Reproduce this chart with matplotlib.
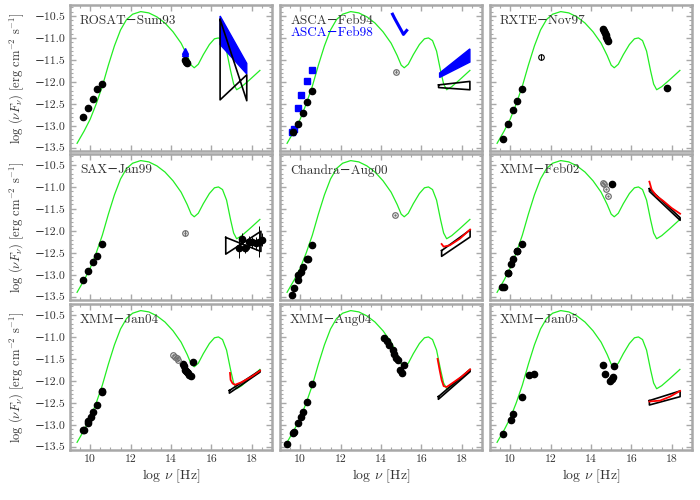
import matplotlib

matplotlib.use("Agg")
import matplotlib.pyplot as plt
from matplotlib.ticker import MultipleLocator

# model SED (green curve)
MODEL_NU = [9.35, 9.7, 10.0, 10.3, 10.6, 10.9, 11.2, 11.5, 11.8, 12.1, 12.5, 12.9,
            13.3, 13.7, 14.1, 14.5, 14.8, 15.0, 15.15, 15.35, 15.6, 15.9, 16.15,
            16.35, 16.55, 16.75, 16.95, 17.1, 17.25, 17.5, 17.9, 18.4]
MODEL_F = [-13.40, -13.12, -12.85, -12.50, -12.10, -11.62, -11.18, -10.82, -10.58,
           -10.46, -10.40, -10.43, -10.52, -10.66, -10.86, -11.12, -11.40, -11.62,
           -11.68, -11.60, -11.38, -11.15, -11.02, -11.00, -11.06, -11.30, -11.75,
           -12.05, -12.18, -12.11, -11.95, -11.74]

TITLES = ["ROSAT−Sum93", "ASCA−Feb94", "RXTE−Nov97",
          "SAX−Jan99", "Chandra−Aug00", "XMM−Feb02",
          "XMM−Jan04", "XMM−Aug04", "XMM−Jan05"]

# ROSAT-Sum93
ROSAT_NU = [9.66, 9.91, 10.15, 10.35, 10.57, 14.67, 14.72, 14.78]
ROSAT_F = [-12.81, -12.60, -12.39, -12.17, -12.06, -11.50, -11.55, -11.57]
ROSAT_UV_NU = [14.69, 14.69]
ROSAT_UV_F = [-11.29, -11.35]
ROSAT_BLUE_TIE_NU = [16.43, 17.75, 17.75, 16.43]
ROSAT_BLUE_TIE_F = [-10.50, -11.58, -11.82, -11.15]
ROSAT_TIE_NU = [16.43, 17.75, 17.75, 16.43, 16.43]
ROSAT_TIE_F = [-10.58, -12.43, -11.84, -12.41, -10.58]

# ASCA-Feb94 (black) / ASCA-Feb98 (blue)
ASCA_NU = [9.66, 9.91, 10.15, 10.35, 10.57]
ASCA_F = [-13.14, -12.97, -12.72, -12.46, -12.20]
ASCA98_NU = [9.57, 9.69, 9.91, 10.05, 10.35, 10.57]
ASCA98_F = [-13.15, -13.08, -12.59, -12.30, -11.99, -11.74]
ASCA_OPEN_NU = [14.72]
ASCA_OPEN_F = [-11.77]
ASCA98_UV_NU = [14.57, 14.68, 14.80, 14.92, 15.03, 15.11, 15.27]
ASCA98_UV_F = [-10.46, -10.56, -10.66, -10.76, -10.85, -10.92, -10.83]
ASCA98_TIE_NU = [16.9, 18.4, 18.4, 16.9]
ASCA98_TIE_F = [-11.80, -11.25, -11.55, -11.90]
ASCA_TIE_NU = [16.85, 18.4, 18.4, 16.85, 16.85]
ASCA_TIE_F = [-12.07, -11.99, -12.18, -12.13, -12.07]

# RXTE-Nov97
RXTE_NU = [9.66, 9.91, 10.15, 10.35, 10.57, 14.60, 14.64, 14.68, 14.72, 14.76,
           14.80, 14.84, 17.75]
RXTE_F = [-13.31, -12.95, -12.65, -12.43, -12.17, -10.80, -10.84, -10.88, -10.93,
          -10.97, -11.02, -11.07, -12.15]
RXTE_PHI_NU = [11.52]
RXTE_PHI_F = [-11.44]

# SAX-Jan99
SAX_NU = [9.66, 9.91, 10.15, 10.35, 10.57]
SAX_F = [-13.12, -12.91, -12.70, -12.57, -12.31]
SAX_PHI_NU = [14.69]
SAX_PHI_F = [-12.05]
SAX_X_NU = [17.37, 17.51, 17.68, 17.86, 18.02, 18.19, 18.36, 18.52]
SAX_X_F = [-12.38, -12.18, -12.40, -12.26, -12.26, -12.28, -12.25, -12.20]
SAX_X_ERR = [0.24, 0.12, 0.10, 0.15, 0.12, 0.15, 0.35, 0.15]
SAX_TIE_NU = [16.71, 18.45, 18.45, 16.71, 16.71]
SAX_TIE_F = [-12.15, -12.47, -12.01, -12.53, -12.15]

# Chandra-Aug00
CHANDRA_NU = [9.57, 9.69, 9.87, 9.91, 10.02, 10.15, 10.32, 10.37, 10.57]
CHANDRA_F = [-13.47, -13.31, -13.11, -13.01, -12.93, -12.82, -12.64, -12.63, -12.33]
CHANDRA_OPEN_NU = [14.69]
CHANDRA_OPEN_F = [-11.65]
CHANDRA_RED_NU = [17.0, 17.1, 17.4, 17.9, 18.41]
CHANDRA_RED_F = [-12.30, -12.36, -12.33, -12.18, -11.97]
CHANDRA_TIE_NU = [17.0, 18.41, 18.41, 17.0, 17.0]
CHANDRA_TIE_F = [-12.45, -11.98, -12.14, -12.58, -12.45]

# XMM-Feb02
FEB02_NU = [9.58, 9.69, 9.88, 9.91, 10.04, 10.15, 10.32, 10.35, 10.57, 15.06]
FEB02_F = [-13.27, -13.27, -12.97, -12.95, -12.76, -12.65, -12.47, -12.46, -12.30,
           -10.94]
FEB02_OPEN_NU = [14.58, 14.66, 14.74, 14.86]
FEB02_OPEN_F = [-10.91, -10.94, -11.05, -11.20]
FEB02_RED_NU = [16.89, 17.0, 17.25, 17.58, 17.99, 18.41]
FEB02_RED_F = [-10.88, -11.06, -11.21, -11.32, -11.48, -11.61]
FEB02_TIE_NU = [16.89, 18.41, 18.41, 16.89, 16.89]
FEB02_TIE_F = [-11.04, -11.70, -11.76, -11.10, -11.04]

# XMM-Jan04
JAN04_NU = [9.66, 9.71, 9.91, 9.91, 10.02, 10.15, 10.35, 10.57, 10.57, 14.58, 14.64,
            14.69, 14.74, 14.78, 14.83, 14.90, 14.97, 15.10]
JAN04_F = [-13.11, -13.11, -12.97, -12.91, -12.83, -12.72, -12.54, -12.26, -12.23,
           -11.62, -11.67, -11.75, -11.78, -11.80, -11.82, -11.86, -11.88, -11.58]
JAN04_OPEN_NU = [14.12, 14.20, 14.28, 14.36]
JAN04_OPEN_F = [-11.42, -11.46, -11.49, -11.52]
JAN04_RED_NU = [16.92, 16.95, 17.05, 17.17, 17.5, 18.0, 18.41]
JAN04_RED_F = [-11.82, -11.98, -12.06, -12.09, -12.03, -11.90, -11.77]
JAN04_TIE_NU = [16.89, 18.41, 18.41, 16.89, 16.89]
JAN04_TIE_F = [-12.22, -11.76, -11.80, -12.28, -12.22]

# XMM-Aug04
AUG04_NU = [9.36, 9.66, 9.71, 9.87, 10.02, 10.15, 10.35, 10.57, 14.15, 14.28, 14.41,
            14.58, 14.64, 14.74, 14.86, 14.94, 15.03, 15.15]
AUG04_F = [-13.43, -13.18, -13.16, -12.97, -12.82, -12.70, -12.49, -12.07, -11.02,
           -11.10, -11.19, -11.29, -11.38, -11.49, -11.52, -11.76, -11.82, -11.63]
AUG04_RED_NU = [16.80, 16.90, 17.00, 17.10, 17.25, 17.6, 18.0, 18.41]
AUG04_RED_F = [-11.50, -11.75, -11.98, -12.12, -12.14, -12.03, -11.90, -11.74]
AUG04_TIE_NU = [16.84, 18.41, 18.41, 16.84, 16.84]
AUG04_TIE_F = [-12.36, -11.74, -11.79, -12.42, -12.36]

# XMM-Jan05
JAN05_NU = [9.66, 10.02, 10.15, 10.57, 10.95, 11.18, 14.61, 14.69, 14.94, 15.02,
            15.07, 15.14]
JAN05_F = [-13.20, -12.89, -12.76, -12.36, -11.86, -11.84, -11.65, -11.84, -12.01,
           -11.96, -11.92, -11.67]
JAN05_RED_NU = [16.89, 17.42, 17.91, 18.41]
JAN05_RED_F = [-12.47, -12.45, -12.36, -12.23]
JAN05_TIE_NU = [16.89, 18.41, 18.41, 16.89, 16.89]
JAN05_TIE_F = [-12.45, -12.23, -12.36, -12.55, -12.45]

FRAME = "#a8a8a8"
GREEN = "#22ee22"
GRAY = "#707070"
INK = "#333333"

plt.rcParams["font.family"] = ["cmr10", "DejaVu Serif"]
plt.rcParams["mathtext.fontset"] = "cm"
plt.rcParams["axes.unicode_minus"] = True


def style_axes(ax, row, col):
    ax.set_xlim(9.0, 19.0)
    ax.set_ylim(-13.575, -10.25)
    ax.xaxis.set_major_locator(MultipleLocator(2))
    ax.xaxis.set_minor_locator(MultipleLocator(0.5))
    ax.yaxis.set_major_locator(MultipleLocator(0.5))
    ax.yaxis.set_minor_locator(MultipleLocator(0.1))
    ax.tick_params(which="both", direction="in", top=True, right=True, color=FRAME,
                   labelsize=8.5, labelcolor=INK)
    ax.tick_params(which="major", length=4, width=1.0)
    ax.tick_params(which="minor", length=2, width=0.8)
    for spine in ax.spines.values():
        spine.set_color(FRAME)
        spine.set_linewidth(1.8)
    if col > 0:
        ax.set_yticklabels([])
    else:
        ax.yaxis.set_major_formatter(lambda v, p: f"{v:.1f}".replace("-", "−"))
    if row < 2:
        ax.set_xticklabels([])
    else:
        ax.xaxis.set_major_formatter(lambda v, p: f"{v:.0f}")
        ax.set_xlabel(r"log $\nu$ [Hz]", fontsize=10, labelpad=2, color=INK)


def dots(ax, nu, f, color="black"):
    ax.plot(nu, f, "o", color=color, ms=4.5, mec=color, zorder=4)


def open_dots(ax, nu, f, err=None):
    ax.errorbar(nu, f, yerr=err, fmt="o", ms=4, mfc="none", mec=GRAY, ecolor=GRAY,
                mew=0.9, elinewidth=0.8, capsize=0, zorder=4)
    ax.plot(nu, f, ".", color=GRAY, ms=1.5, zorder=5)


def tie(ax, nu, f, color="black"):
    ax.plot(nu, f, "-", color=color, lw=1.2, zorder=3)


def main() -> None:
    fig = plt.figure(figsize=(7, 5), dpi=100)
    lefts = [0.1, 0.4, 0.7]
    bottoms = [0.698, 0.4, 0.1]
    axes = []
    for row in range(3):
        for col in range(3):
            ax = fig.add_axes([lefts[col], bottoms[row], 0.2886, 0.292])
            style_axes(ax, row, col)
            ax.plot(MODEL_NU, MODEL_F, "-", color=GREEN, lw=0.9, zorder=2)
            ax.text(0.05, 0.93, TITLES[row * 3 + col], transform=ax.transAxes,
                    fontsize=9.5, va="top", color=INK)
            axes.append(ax)
        fig.text(0.024, bottoms[row] + 0.146,
                 r"log ($\nu F_\nu$) [erg cm$^{-2}$ s$^{-1}$]", rotation=90,
                 ha="center", va="center", fontsize=9, color=INK)

    # ROSAT
    ax = axes[0]
    ax.fill(ROSAT_BLUE_TIE_NU, ROSAT_BLUE_TIE_F, color="blue", lw=1, zorder=3)
    tie(ax, ROSAT_TIE_NU, ROSAT_TIE_F)
    dots(ax, ROSAT_NU, ROSAT_F)
    ax.plot(ROSAT_UV_NU, ROSAT_UV_F, "^", color="blue", ms=4, zorder=4)

    # ASCA
    ax = axes[1]
    ax.text(0.05, 0.85, "ASCA−Feb98", transform=ax.transAxes, fontsize=9.5,
            va="top", color="blue")
    ax.fill(ASCA98_TIE_NU, ASCA98_TIE_F, color="blue", lw=1, zorder=3)
    tie(ax, ASCA_TIE_NU, ASCA_TIE_F)
    ax.plot(ASCA98_NU, ASCA98_F, "s", color="blue", ms=3.8, zorder=4)
    ax.plot(ASCA98_UV_NU, ASCA98_UV_F, "-", color="blue", lw=2.2, zorder=4)
    dots(ax, ASCA_NU, ASCA_F)
    open_dots(ax, ASCA_OPEN_NU, ASCA_OPEN_F, 0.04)

    # RXTE
    ax = axes[2]
    dots(ax, RXTE_NU, RXTE_F)
    ax.errorbar(RXTE_PHI_NU, RXTE_PHI_F, yerr=0.07, fmt="o", ms=4, mfc="none",
                mec="black", ecolor="black", mew=0.8, elinewidth=0.8, zorder=4)

    # SAX
    ax = axes[3]
    tie(ax, SAX_TIE_NU, SAX_TIE_F)
    ax.errorbar(SAX_X_NU, SAX_X_F, yerr=SAX_X_ERR, fmt="o", ms=4.5, color="black",
                elinewidth=0.7, capsize=0, zorder=4)
    dots(ax, SAX_NU, SAX_F)
    open_dots(ax, SAX_PHI_NU, SAX_PHI_F, 0.07)

    # Chandra
    ax = axes[4]
    tie(ax, CHANDRA_TIE_NU, CHANDRA_TIE_F)
    ax.plot(CHANDRA_RED_NU, CHANDRA_RED_F, "-", color="red", lw=1.3, zorder=3)
    dots(ax, CHANDRA_NU, CHANDRA_F)
    open_dots(ax, CHANDRA_OPEN_NU, CHANDRA_OPEN_F)

    # XMM Feb02
    ax = axes[5]
    tie(ax, FEB02_TIE_NU, FEB02_TIE_F)
    ax.plot(FEB02_RED_NU, FEB02_RED_F, "-", color="red", lw=1.3, zorder=3)
    dots(ax, FEB02_NU, FEB02_F)
    open_dots(ax, FEB02_OPEN_NU, FEB02_OPEN_F)

    # XMM Jan04
    ax = axes[6]
    tie(ax, JAN04_TIE_NU, JAN04_TIE_F)
    ax.plot(JAN04_RED_NU, JAN04_RED_F, "-", color="red", lw=1.3, zorder=3)
    dots(ax, JAN04_NU, JAN04_F)
    open_dots(ax, JAN04_OPEN_NU, JAN04_OPEN_F)

    # XMM Aug04
    ax = axes[7]
    tie(ax, AUG04_TIE_NU, AUG04_TIE_F)
    ax.plot(AUG04_RED_NU, AUG04_RED_F, "-", color="red", lw=1.3, zorder=3)
    dots(ax, AUG04_NU, AUG04_F)

    # XMM Jan05
    ax = axes[8]
    tie(ax, JAN05_TIE_NU, JAN05_TIE_F)
    ax.plot(JAN05_RED_NU, JAN05_RED_F, "-", color="red", lw=1.3, zorder=3)
    dots(ax, JAN05_NU, JAN05_F)

    fig.savefig("out.png", dpi=100)


if __name__ == "__main__":
    main()
